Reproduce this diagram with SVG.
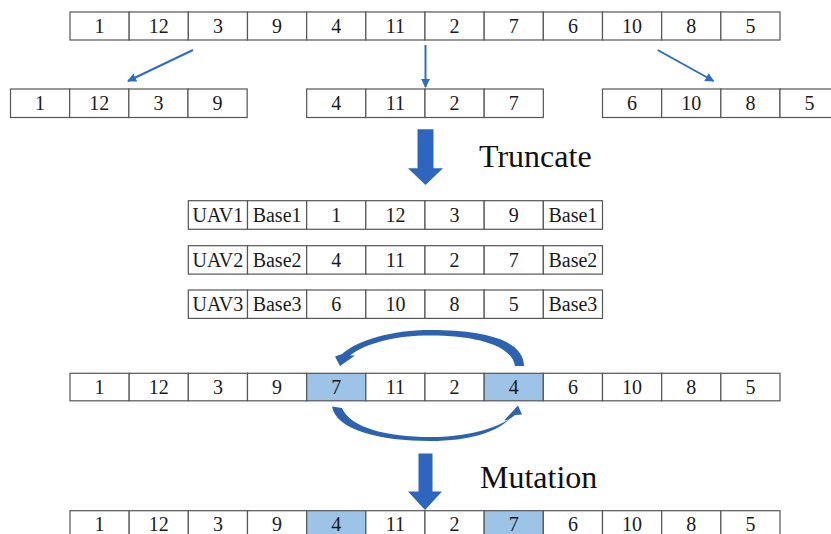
<svg xmlns="http://www.w3.org/2000/svg" width="831" height="534" viewBox="0 0 831 534">
<defs>
<style>
.c{fill:#fff;stroke:#555;stroke-width:1.2}
.h{fill:#9DC3E6;stroke:#555;stroke-width:1.2}
.t{font-family:"Liberation Serif","Times New Roman",serif;font-size:20px;fill:#1a1a1a;text-anchor:middle}
.big{font-family:"Liberation Serif","Times New Roman",serif;font-size:32px;fill:#111}
.ln{stroke:#2F6CC8;stroke-width:2;fill:none;marker-end:url(#ah)}
.blk{fill:#2E65BE}
.crv{fill:#2D62B0}
</style>
<marker id="ah" viewBox="0 0 10 10" refX="9" refY="5" markerWidth="9" markerHeight="9" markerUnits="userSpaceOnUse" orient="auto">
<path d="M0,0 L10,5 L0,10 z" fill="#2F6CC8"/>
</marker>
</defs>
<rect width="831" height="534" fill="#fff"/>

<g id="row-original">
<rect class="c" x="70" y="12" width="59.17" height="28"/>
<rect class="c" x="129.17" y="12" width="59.17" height="28"/>
<rect class="c" x="188.33" y="12" width="59.17" height="28"/>
<rect class="c" x="247.5" y="12" width="59.17" height="28"/>
<rect class="c" x="306.67" y="12" width="59.17" height="28"/>
<rect class="c" x="365.83" y="12" width="59.17" height="28"/>
<rect class="c" x="425" y="12" width="59.17" height="28"/>
<rect class="c" x="484.17" y="12" width="59.17" height="28"/>
<rect class="c" x="543.33" y="12" width="59.17" height="28"/>
<rect class="c" x="602.5" y="12" width="59.17" height="28"/>
<rect class="c" x="661.67" y="12" width="59.17" height="28"/>
<rect class="c" x="720.83" y="12" width="59.17" height="28"/>
<text class="t" x="99.58" y="32.8">1</text>
<text class="t" x="158.75" y="32.8">12</text>
<text class="t" x="217.92" y="32.8">3</text>
<text class="t" x="277.08" y="32.8">9</text>
<text class="t" x="336.25" y="32.8">4</text>
<text class="t" x="395.42" y="32.8">11</text>
<text class="t" x="454.58" y="32.8">2</text>
<text class="t" x="513.75" y="32.8">7</text>
<text class="t" x="572.92" y="32.8">6</text>
<text class="t" x="632.08" y="32.8">10</text>
<text class="t" x="691.25" y="32.8">8</text>
<text class="t" x="750.42" y="32.8">5</text>
</g>

<g id="split-1">
<rect class="c" x="10.5" y="89" width="59.17" height="28.5"/>
<rect class="c" x="69.67" y="89" width="59.17" height="28.5"/>
<rect class="c" x="128.83" y="89" width="59.17" height="28.5"/>
<rect class="c" x="188" y="89" width="59.17" height="28.5"/>
<text class="t" x="40.08" y="109.8">1</text>
<text class="t" x="99.25" y="109.8">12</text>
<text class="t" x="158.42" y="109.8">3</text>
<text class="t" x="217.58" y="109.8">9</text>
</g>

<g id="split-2">
<rect class="c" x="306.67" y="89" width="59.17" height="28.5"/>
<rect class="c" x="365.83" y="89" width="59.17" height="28.5"/>
<rect class="c" x="425" y="89" width="59.17" height="28.5"/>
<rect class="c" x="484.17" y="89" width="59.17" height="28.5"/>
<text class="t" x="336.25" y="109.8">4</text>
<text class="t" x="395.42" y="109.8">11</text>
<text class="t" x="454.58" y="109.8">2</text>
<text class="t" x="513.75" y="109.8">7</text>
</g>

<g id="split-3">
<rect class="c" x="602.5" y="89" width="59.17" height="28.5"/>
<rect class="c" x="661.67" y="89" width="59.17" height="28.5"/>
<rect class="c" x="720.83" y="89" width="59.17" height="28.5"/>
<rect class="c" x="780" y="89" width="59.17" height="28.5"/>
<text class="t" x="632.08" y="109.8">6</text>
<text class="t" x="691.25" y="109.8">10</text>
<text class="t" x="750.42" y="109.8">8</text>
<text class="t" x="809.58" y="109.8">5</text>
</g>

<g id="label-truncate">
<text class="big" x="479" y="167">Truncate</text>
</g>

<g id="uav1">
<rect class="c" x="188.33" y="200.7" width="59.17" height="28.6"/>
<rect class="c" x="247.5" y="200.7" width="59.17" height="28.6"/>
<rect class="c" x="306.67" y="200.7" width="59.17" height="28.6"/>
<rect class="c" x="365.83" y="200.7" width="59.17" height="28.6"/>
<rect class="c" x="425" y="200.7" width="59.17" height="28.6"/>
<rect class="c" x="484.17" y="200.7" width="59.17" height="28.6"/>
<rect class="c" x="543.33" y="200.7" width="59.17" height="28.6"/>
<text class="t" x="217.92" y="221.6">UAV1</text>
<text class="t" x="277.08" y="221.6">Base1</text>
<text class="t" x="336.25" y="221.6">1</text>
<text class="t" x="395.42" y="221.6">12</text>
<text class="t" x="454.58" y="221.6">3</text>
<text class="t" x="513.75" y="221.6">9</text>
<text class="t" x="572.92" y="221.6">Base1</text>
</g>

<g id="uav2">
<rect class="c" x="188.33" y="245.7" width="59.17" height="28.4"/>
<rect class="c" x="247.5" y="245.7" width="59.17" height="28.4"/>
<rect class="c" x="306.67" y="245.7" width="59.17" height="28.4"/>
<rect class="c" x="365.83" y="245.7" width="59.17" height="28.4"/>
<rect class="c" x="425" y="245.7" width="59.17" height="28.4"/>
<rect class="c" x="484.17" y="245.7" width="59.17" height="28.4"/>
<rect class="c" x="543.33" y="245.7" width="59.17" height="28.4"/>
<text class="t" x="217.92" y="266.5">UAV2</text>
<text class="t" x="277.08" y="266.5">Base2</text>
<text class="t" x="336.25" y="266.5">4</text>
<text class="t" x="395.42" y="266.5">11</text>
<text class="t" x="454.58" y="266.5">2</text>
<text class="t" x="513.75" y="266.5">7</text>
<text class="t" x="572.92" y="266.5">Base2</text>
</g>

<g id="uav3">
<rect class="c" x="188.33" y="290" width="59.17" height="28.4"/>
<rect class="c" x="247.5" y="290" width="59.17" height="28.4"/>
<rect class="c" x="306.67" y="290" width="59.17" height="28.4"/>
<rect class="c" x="365.83" y="290" width="59.17" height="28.4"/>
<rect class="c" x="425" y="290" width="59.17" height="28.4"/>
<rect class="c" x="484.17" y="290" width="59.17" height="28.4"/>
<rect class="c" x="543.33" y="290" width="59.17" height="28.4"/>
<text class="t" x="217.92" y="310.8">UAV3</text>
<text class="t" x="277.08" y="310.8">Base3</text>
<text class="t" x="336.25" y="310.8">6</text>
<text class="t" x="395.42" y="310.8">10</text>
<text class="t" x="454.58" y="310.8">8</text>
<text class="t" x="513.75" y="310.8">5</text>
<text class="t" x="572.92" y="310.8">Base3</text>
</g>

<g id="row-before-mutation">
<rect class="c" x="70" y="373.3" width="59.17" height="27.5"/>
<rect class="c" x="129.17" y="373.3" width="59.17" height="27.5"/>
<rect class="c" x="188.33" y="373.3" width="59.17" height="27.5"/>
<rect class="c" x="247.5" y="373.3" width="59.17" height="27.5"/>
<rect class="h" x="306.67" y="373.3" width="59.17" height="27.5"/>
<rect class="c" x="365.83" y="373.3" width="59.17" height="27.5"/>
<rect class="c" x="425" y="373.3" width="59.17" height="27.5"/>
<rect class="h" x="484.17" y="373.3" width="59.17" height="27.5"/>
<rect class="c" x="543.33" y="373.3" width="59.17" height="27.5"/>
<rect class="c" x="602.5" y="373.3" width="59.17" height="27.5"/>
<rect class="c" x="661.67" y="373.3" width="59.17" height="27.5"/>
<rect class="c" x="720.83" y="373.3" width="59.17" height="27.5"/>
<text class="t" x="99.58" y="393.6">1</text>
<text class="t" x="158.75" y="393.6">12</text>
<text class="t" x="217.92" y="393.6">3</text>
<text class="t" x="277.08" y="393.6">9</text>
<text class="t" x="336.25" y="393.6">7</text>
<text class="t" x="395.42" y="393.6">11</text>
<text class="t" x="454.58" y="393.6">2</text>
<text class="t" x="513.75" y="393.6">4</text>
<text class="t" x="572.92" y="393.6">6</text>
<text class="t" x="632.08" y="393.6">10</text>
<text class="t" x="691.25" y="393.6">8</text>
<text class="t" x="750.42" y="393.6">5</text>
</g>

<g id="label-mutation">
<text class="big" x="480" y="488">Mutation</text>
</g>

<g id="row-after-mutation">
<rect class="c" x="70" y="510.7" width="59.17" height="28"/>
<rect class="c" x="129.17" y="510.7" width="59.17" height="28"/>
<rect class="c" x="188.33" y="510.7" width="59.17" height="28"/>
<rect class="c" x="247.5" y="510.7" width="59.17" height="28"/>
<rect class="h" x="306.67" y="510.7" width="59.17" height="28"/>
<rect class="c" x="365.83" y="510.7" width="59.17" height="28"/>
<rect class="c" x="425" y="510.7" width="59.17" height="28"/>
<rect class="h" x="484.17" y="510.7" width="59.17" height="28"/>
<rect class="c" x="543.33" y="510.7" width="59.17" height="28"/>
<rect class="c" x="602.5" y="510.7" width="59.17" height="28"/>
<rect class="c" x="661.67" y="510.7" width="59.17" height="28"/>
<rect class="c" x="720.83" y="510.7" width="59.17" height="28"/>
<text class="t" x="99.58" y="531.3">1</text>
<text class="t" x="158.75" y="531.3">12</text>
<text class="t" x="217.92" y="531.3">3</text>
<text class="t" x="277.08" y="531.3">9</text>
<text class="t" x="336.25" y="531.3">4</text>
<text class="t" x="395.42" y="531.3">11</text>
<text class="t" x="454.58" y="531.3">2</text>
<text class="t" x="513.75" y="531.3">7</text>
<text class="t" x="572.92" y="531.3">6</text>
<text class="t" x="632.08" y="531.3">10</text>
<text class="t" x="691.25" y="531.3">8</text>
<text class="t" x="750.42" y="531.3">5</text>
</g>

<g id="connectors">
<line class="ln" x1="193" y1="50" x2="128" y2="81"/>
<line class="ln" x1="425.5" y1="45" x2="425.5" y2="87"/>
<line class="ln" x1="657.7" y1="50" x2="713.5" y2="81"/>
<path class="blk" d="M417.5,129.3 H433.5 V168.3 H443 L425.5,185 L408,168.3 H417.5 Z"/>
<path class="blk" d="M418.5,453.5 H432.5 V491.5 H442 L425,510 L408,491.5 H418.5 Z"/>
<path class="crv" d="M524,366 C524,340 484,330 430,330 C392,330 358,340 342,354 L335,356.5 L340,366 L355,355.5 L350,355.5 C366,343 396,335.5 430,335.5 C478,335.5 512,346 515,366 Z"/>
<path class="crv" d="M332,406.5 C336,430 380,441 430,441 C470,441 496,432 509,419.5 L504,420.5 L518,405.5 L522,414.5 L515,415 C502,426 472,437 430,437 C388,437 350,428 342,408 Z"/>
</g>
</svg>
